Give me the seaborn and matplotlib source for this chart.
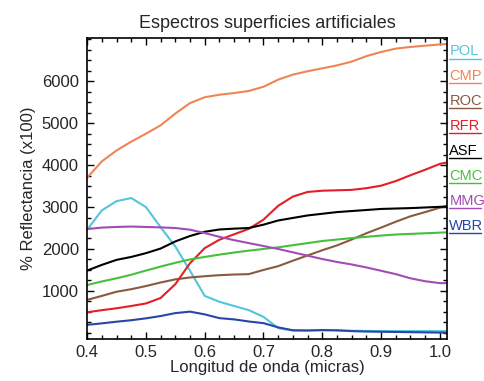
import numpy as np
import pandas as pd
import matplotlib
matplotlib.use("Agg")
import matplotlib.pyplot as plt
import seaborn as sns

# wavelength grid (micras)
wavelength = [0.400, 0.425, 0.450, 0.475, 0.500, 0.525, 0.550, 0.575, 0.600,
              0.625, 0.650, 0.675, 0.700, 0.725, 0.750, 0.775, 0.800, 0.825,
              0.850, 0.875, 0.900, 0.925, 0.950, 0.975, 1.000, 1.0125]

# reflectance (x100) per surface
pol = [2460, 2920, 3140, 3215, 3000, 2520, 2060, 1480, 880, 740, 640, 540, 380,
       110, 55, 55, 60, 55, 50, 45, 40, 40, 40, 40, 40, 40]
cmp_ = [3700, 4090, 4350, 4560, 4750, 4950, 5230, 5480, 5620, 5680, 5720, 5770,
        5870, 6040, 6160, 6240, 6310, 6380, 6470, 6600, 6700, 6780, 6820, 6850,
        6880, 6890]
roc = [785, 880, 980, 1040, 1115, 1200, 1275, 1320, 1350, 1375, 1390, 1400,
       1500, 1590, 1720, 1845, 1970, 2085, 2225, 2375, 2510, 2650, 2780, 2880,
       2985, 3030]
rfr = [490, 540, 585, 640, 700, 830, 1160, 1660, 2020, 2220, 2350, 2480, 2700,
       3030, 3250, 3360, 3390, 3400, 3410, 3450, 3510, 3620, 3760, 3890, 4030,
       4065]
asf = [1485, 1620, 1740, 1810, 1900, 2010, 2180, 2310, 2410, 2465, 2485, 2500,
       2580, 2680, 2740, 2800, 2840, 2880, 2905, 2930, 2955, 2965, 2975, 2990,
       3005, 3012]
cmc = [1140, 1225, 1300, 1385, 1485, 1580, 1670, 1750, 1810, 1865, 1915, 1960,
       2000, 2040, 2090, 2140, 2190, 2225, 2260, 2290, 2320, 2345, 2360, 2375,
       2390, 2395]
mmg = [2475, 2510, 2525, 2535, 2525, 2515, 2500, 2460, 2380, 2290, 2210, 2140,
       2070, 2000, 1920, 1840, 1760, 1690, 1630, 1560, 1480, 1400, 1300, 1230,
       1185, 1185]
wbr = [190, 225, 265, 300, 345, 400, 470, 505, 440, 350, 320, 270, 230, 130,
       60, 55, 65, 60, 40, 30, 25, 20, 15, 10, 5, 5]

names = ["POL", "CMP", "ROC", "RFR", "ASF", "CMC", "MMG", "WBR"]
series = [pol, cmp_, roc, rfr, asf, cmc, mmg, wbr]
colors = ["#52c6da", "#f08456", "#8a5a3e", "#e41e26", "#000000", "#46c03c",
          "#a24cb4", "#2846a6"]
palette = dict(zip(names, colors))

df = pd.concat([pd.DataFrame({"wl": wavelength, "refl": s, "surf": n})
                for n, s in zip(names, series)], ignore_index=True)

sns.set_style("ticks")
plt.rcParams['font.family'] = ['Liberation Sans', 'DejaVu Sans']

fig = plt.figure(figsize=(4.84, 3.81), dpi=100)
ax = fig.add_axes([0.180, 0.110, 0.744, 0.791])

sns.lineplot(data=df, x="wl", y="refl", hue="surf", palette=palette,
             hue_order=names, linewidth=1.5, legend=False, ax=ax)

ax.set_xlim(0.4, 1.0125)
ax.set_ylim(-150, 7040)
ax.set_xticks([0.4, 0.5, 0.6, 0.7, 0.8, 0.9, 1.0])
ax.set_xticklabels(["0.4", "0.5", "0.6", "0.7", "0.8", "0.9", "1.0"])
ax.set_yticks([1000, 2000, 3000, 4000, 5000, 6000])
ax.set_xticks(np.arange(0.4, 1.0126, 0.025), minor=True)
ax.set_yticks(np.arange(0, 7040, 250), minor=True)

ax.tick_params(which="both", direction="in", top=True, right=True,
               labelsize=12, width=1.0, color="black")
ax.tick_params(which="major", length=5)
ax.tick_params(which="minor", length=3)
ax.tick_params(axis="y", pad=6)
ax.tick_params(axis="x", pad=4)
for sp in ax.spines.values():
    sp.set_linewidth(1.2)
    sp.set_color("black")

ax.set_xlabel("Longitud de onda (micras)", fontsize=12, labelpad=0)
ax.set_ylabel("% Reflectancia (x100)", fontsize=12, labelpad=4)
ax.set_title("Espectros superficies artificiales", fontsize=13, pad=7)

# labels on the right with a colour line under each
for i, (n, c) in enumerate(zip(names, colors)):
    yy = 0.955 - i * 0.0829
    ax.text(1.006, yy, n, color=c, fontsize=10.5, transform=ax.transAxes,
            ha="left", va="center")
    ax.plot([1.004, 1.094], [yy - 0.024, yy - 0.024], color=c, lw=1.0,
            transform=ax.transAxes, clip_on=False)

fig.savefig("out.png", dpi=100)
